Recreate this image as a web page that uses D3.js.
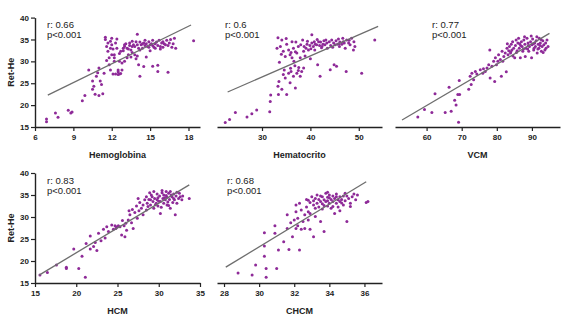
<!DOCTYPE html>
<html>
<head>
<meta charset="utf-8">
<script src="https://cdn.jsdelivr.net/npm/d3@7"></script>
<style>
  body { margin: 0; background: #fff; }
  text { font-family: "Liberation Sans", Arial, sans-serif; }
</style>
</head>
<body>
<div id="chart"></div>
<script>
// ---- data: [x, Ret-He] ----
const hemoglobina = [
  [6.9,16.2],[6.9,16.8],[7.6,18.2],[7.8,17.2],[8.6,18.8],[8.8,18.2],[8.9,18.4],[9.7,21.0],[9.9,22.2],
  [10.2,28.0],[10.5,25.5],[10.5,23.6],[10.6,24.3],[10.7,22.5],[10.8,26.6],[10.9,27.4],[11.0,28.5],
  [11.0,22.2],[11.1,25.5],[11.2,24.7],[11.3,22.6],[11.4,27.3],[11.5,35.5],[11.5,35.0],[11.6,33.4],
  [11.7,34.2],[11.7,32.3],[11.8,30.8],[11.8,29.2],[11.9,33.0],[12.0,31.5],[12.0,35.3],[12.1,27.1],
  [12.0,33.8],[12.2,30.0],[12.2,30.8],[12.3,27.1],[12.3,34.2],[12.4,33.0],[12.5,27.0],[12.5,28.0],
  [12.5,27.6],[12.6,30.0],[12.6,27.1],[12.7,27.2],[12.7,32.3],[12.8,29.6],[12.9,33.0],[13.0,33.4],
  [13.0,33.8],[13.2,30.8],[13.2,33.0],[13.3,31.5],[13.4,33.6],[13.4,34.2],[13.5,32.6],[13.6,33.4],
  [13.7,33.8],[13.8,31.5],[13.8,33.4],[13.9,34.5],[14.0,36.2],[14.0,33.8],[14.1,33.0],[14.1,29.2],
  [14.2,34.4],[14.3,33.8],[14.4,34.0],[14.4,33.0],[14.5,34.2],[14.5,28.8],[14.6,33.6],[14.7,34.0],
  [14.8,33.4],[14.9,34.5],[14.9,33.2],[15.0,33.8],[15.2,28.9],[15.1,34.0],[15.2,33.6],[15.2,34.8],
  [15.3,33.2],[15.4,34.0],[15.6,29.1],[15.6,27.7],[15.5,34.4],[15.6,33.6],[15.7,34.8],[15.8,33.4],
  [15.9,34.2],[16.0,34.5],[16.0,33.2],[16.1,34.0],[16.4,27.5],[16.3,34.8],[16.4,33.6],[16.6,35.0],
  [16.7,33.2],[16.9,35.3],[17.0,33.0],[18.4,34.7],[12.8,28.0],[13.0,30.0],[13.5,31.0],[14.2,26.6],
  [13.9,30.6],[12.2,31.5],[11.9,28.0],[11.6,30.2],[13.6,32.0],[14.7,31.0],[15.8,32.8],[14.0,31.2],
  [12.9,32.4],[13.1,34.0],[13.3,32.8],[13.6,34.6],[14.2,32.6],[14.6,34.8],[15.0,32.4],[15.4,33.0],
  [16.2,33.8],[16.5,34.2],[16.8,34.0],[12.4,35.1],[12.1,32.8],[11.9,34.6],[12.6,31.8]
];
const hematocrito = [
  [22.4,16.0],[23.3,16.7],[24.5,18.3],[26.9,17.3],[27.9,18.0],[28.9,18.9],[31.6,18.5],[31.7,20.8],
  [31.8,22.3],[33.4,22.4],[33.3,24.3],[33.5,25.4],[34.1,23.6],[34.4,27.0],[34.8,26.2],[35.1,22.4],
  [35.5,27.3],[35.8,25.1],[36.0,27.7],[36.5,26.6],[36.9,23.9],[37.2,27.3],[37.5,27.9],[37.9,26.6],
  [38.2,27.7],[38.6,28.5],[33.3,35.4],[34.1,34.9],[33.1,33.0],[33.8,33.4],[34.4,32.3],[34.8,31.1],
  [35.1,33.9],[35.5,32.6],[35.8,31.5],[36.2,34.5],[36.2,30.8],[36.5,33.0],[36.6,30.0],[37.2,31.9],
  [37.5,33.4],[37.9,30.8],[38.4,34.9],[38.6,32.3],[38.7,33.4],[39.1,33.0],[39.3,33.9],[39.6,32.6],
  [39.9,33.6],[40.3,36.1],[40.3,34.2],[40.6,33.4],[40.8,34.5],[41.0,33.9],[41.3,33.8],[41.5,29.2],
  [41.7,34.5],[41.9,33.6],[42.0,26.6],[42.1,34.4],[42.4,33.4],[42.6,33.9],[42.8,34.7],[43.0,33.8],
  [43.4,34.2],[43.5,33.0],[43.9,34.5],[44.1,28.1],[44.2,33.6],[44.4,34.9],[44.8,34.2],[44.9,29.2],
  [45.1,33.8],[45.3,34.7],[45.4,28.9],[45.6,33.9],[45.8,35.1],[46.0,33.4],[46.1,34.4],[46.5,33.9],
  [46.7,35.3],[46.8,34.5],[47.2,33.0],[47.4,27.7],[47.5,34.9],[47.9,34.2],[48.2,33.8],[48.5,35.3],
  [48.9,32.6],[49.0,34.5],[49.2,33.4],[50.6,27.3],[53.3,34.9],[34.6,28.0],[35.9,28.4],[36.8,29.0],
  [37.6,28.6],[34.0,31.6],[35.0,35.2],[36.9,32.2],[38.0,33.8],[39.4,34.6],[40.1,32.9],[40.9,32.6],
  [41.4,35.0],[42.3,33.1],[43.2,34.9],[44.6,33.2],[45.9,34.0],[47.0,34.2],[48.0,34.8],[37.0,34.4],
  [36.0,32.0],[33.6,29.8],[38.9,31.2],[40.0,30.6]
];
const vcm = [
  [57.5,17.3],[59.4,19.0],[61.5,18.3],[62.4,22.6],[65.3,18.3],[66.4,24.1],[67.0,18.6],[68.0,21.1],
  [68.4,20.0],[68.9,22.4],[69.1,16.1],[69.3,25.6],[69.4,22.4],[72.0,23.6],[72.4,26.6],[72.7,24.7],
  [72.9,27.3],[73.4,25.8],[73.9,27.7],[74.3,27.1],[75.3,28.1],[76.0,27.3],[76.2,28.3],[76.7,27.7],
  [77.2,28.5],[77.7,29.2],[78.0,32.6],[78.1,26.2],[78.6,28.9],[79.1,30.0],[79.4,25.4],[79.6,30.8],
  [79.9,29.2],[80.3,30.0],[80.5,31.5],[81.0,30.4],[81.3,26.6],[81.5,32.3],[81.7,30.0],[82.0,31.1],
  [82.4,31.9],[82.7,27.6],[82.9,33.0],[83.2,31.5],[83.4,32.4],[83.6,33.4],[83.9,31.9],[84.1,33.9],
  [84.3,32.6],[84.5,34.5],[84.8,33.0],[85.1,30.8],[85.3,33.6],[85.5,34.9],[85.8,32.4],[86.0,34.2],
  [86.2,35.3],[86.4,33.0],[86.7,30.8],[87.0,34.5],[87.2,33.4],[87.4,32.3],[87.7,34.9],[88.0,33.9],
  [88.1,31.1],[88.3,33.0],[88.6,35.3],[88.9,34.2],[89.1,32.3],[89.3,33.4],[89.6,34.5],[89.9,30.8],
  [90.0,33.8],[90.2,35.1],[90.5,32.6],[90.8,34.2],[91.0,33.4],[91.2,34.7],[91.5,31.9],[91.8,33.9],
  [92.0,33.0],[92.1,35.3],[92.4,34.2],[92.7,32.3],[92.9,33.4],[93.1,34.7],[93.4,33.8],[93.7,32.6],
  [93.9,34.2],[94.3,34.9],[94.6,33.4],[84.6,31.2],[85.6,32.0],[86.8,33.6],[87.9,35.6],[88.8,32.8],
  [89.8,35.8],[90.6,33.0],[91.4,35.6],[92.6,35.0],[93.2,32.0],[86.5,34.0],[87.6,32.8],[89.0,33.6],
  [90.4,34.0],[91.7,32.8],[83.0,34.0],[84.0,32.2],[94.0,33.0],[92.3,33.6]
];
const hcm = [
  [15.6,16.8],[16.5,17.4],[17.6,19.1],[18.8,18.6],[18.8,18.3],[19.7,22.7],[20.3,18.3],[20.7,21.1],
  [21.1,16.3],[21.2,24.0],[21.7,25.7],[21.7,22.7],[22.1,23.3],[22.3,24.2],[22.5,22.4],[22.7,26.3],
  [23.0,24.6],[23.3,27.2],[23.5,25.2],[23.7,27.8],[23.9,26.7],[24.3,28.2],[24.5,27.2],[24.7,28.0],
  [24.9,27.7],[25.1,28.0],[25.3,27.8],[25.5,25.9],[25.6,29.2],[25.8,28.0],[25.9,25.5],[26.1,27.0],
  [26.3,29.3],[26.4,31.4],[26.5,30.5],[26.7,28.7],[26.8,31.7],[26.9,27.4],[27.1,31.0],[27.3,32.5],
  [27.4,29.7],[27.5,34.2],[27.6,31.4],[27.7,33.3],[27.9,32.0],[28.1,30.5],[28.1,32.7],[28.3,33.9],
  [28.5,31.6],[28.5,34.6],[28.6,33.1],[28.7,32.4],[28.9,35.5],[29.0,33.9],[29.0,32.7],[29.1,35.0],
  [29.3,33.5],[29.4,32.0],[29.4,35.8],[29.5,34.2],[29.7,33.1],[29.8,35.2],[29.8,33.9],[29.9,32.5],
  [30.1,34.8],[30.2,33.5],[30.2,30.8],[30.4,35.5],[30.5,34.2],[30.6,33.1],[30.6,35.0],[30.8,33.9],
  [30.9,35.8],[31.0,34.5],[31.0,32.7],[31.2,35.4],[31.3,34.0],[31.4,32.0],[31.4,35.8],[31.6,34.6],
  [31.7,33.3],[31.8,35.2],[31.9,33.9],[32.0,30.5],[32.1,34.8],[32.2,33.1],[32.4,34.2],[32.5,35.4],
  [32.8,33.9],[32.9,34.8],[33.7,34.2],[29.2,34.6],[29.6,32.8],[30.0,33.6],[30.3,32.2],[30.7,34.4],
  [31.1,33.4],[31.5,35.0],[31.8,34.2],[32.2,35.6],[32.6,34.6],[30.4,36.0],[29.9,34.4],[28.8,34.0],
  [31.2,32.6],[30.9,34.9],[26.0,28.6],[24.8,27.4]
];
const chcm = [
  [28.8,17.3],[29.6,16.8],[29.8,19.1],[30.3,21.1],[30.4,18.3],[30.4,16.3],[31.0,18.3],[30.3,26.4],
  [30.3,23.4],[30.9,28.0],[30.9,26.3],[31.1,22.5],[31.4,24.4],[31.6,27.4],[31.6,30.5],[31.7,22.6],
  [31.8,28.7],[31.9,25.5],[32.0,29.3],[32.1,32.7],[32.1,27.4],[32.1,31.2],[32.2,28.0],[32.2,29.7],
  [32.3,22.5],[32.3,33.1],[32.4,27.2],[32.4,31.6],[32.5,29.0],[32.6,30.5],[32.6,27.4],[32.7,32.3],
  [32.7,34.0],[32.8,29.3],[32.8,31.2],[32.9,33.3],[32.9,27.2],[32.9,30.8],[33.0,34.6],[33.1,32.7],
  [33.1,25.5],[33.1,33.7],[33.2,30.1],[33.2,34.2],[33.3,33.1],[33.3,35.0],[33.4,32.3],[33.4,34.0],
  [33.5,33.5],[33.5,29.0],[33.6,34.6],[33.6,33.0],[33.7,33.9],[33.7,26.7],[33.8,35.4],[33.8,33.5],
  [33.9,32.5],[33.9,34.5],[33.9,33.7],[34.0,35.0],[34.0,33.1],[34.1,34.0],[34.1,32.0],[34.2,34.8],
  [34.2,33.5],[34.3,30.8],[34.3,34.2],[34.4,33.1],[34.4,35.2],[34.5,33.9],[34.5,32.3],[34.6,34.6],
  [34.6,33.5],[34.7,34.0],[34.8,32.7],[34.8,34.8],[34.9,33.7],[35.0,29.0],[35.1,34.2],[35.2,33.1],
  [35.3,34.6],[35.4,35.2],[35.5,33.9],[35.6,35.0],[36.1,33.3],[36.2,33.5],[33.5,34.8],[33.7,32.6],
  [34.0,34.4],[34.2,32.4],[34.4,34.6],[34.7,33.2],[33.9,35.6],[33.6,31.8],[34.6,31.4],[35.0,34.8],
  [33.2,32.0],[32.8,33.8],[34.9,35.4],[35.2,32.4]
];

const xTicks = {
  hemoglobina: [6, 9, 12, 15, 18],
  hematocrito: [30, 40, 50],
  vcm: [60, 70, 80, 90],
  hcm: [15, 20, 25, 30, 35],
  chcm: [28, 30, 32, 34, 36]
};
const yTicks = [15, 20, 25, 30, 35, 40];
const titles = ["Hemoglobina", "Hematocrito", "VCM", "HCM", "CHCM"];
const rValues = ["0.66", "0.6", "0.77", "0.83", "0.68"];
// regression line end points [x, y]
const fitLines = [
  [[7.0, 22.3], [18.2, 38.3]],
  [[22.9, 23.0], [54.0, 38.0]],
  [[53.0, 16.6], [95.0, 36.4]],
  [[15.5, 16.8], [33.7, 37.3]],
  [[28.1, 18.6], [36.1, 38.0]]
];

const width = 567, height = 321;

const svg = d3.select("#chart")
  .append("svg")
    .attr("width", width)
    .attr("height", height)

const rows = [{top: 17.6, bottom: 127}, {top: 173, bottom: 283}]

const panels = [
  {data: hemoglobina, ticks: xTicks.hemoglobina, domain: [6, 18.9], left: 35, right: 200, row: 0, yAxis: true, ann: 47},
  {data: hematocrito, ticks: xTicks.hematocrito, domain: [20.7, 54.8], left: 217, right: 382, row: 0, yAxis: false, ann: 225},
  {data: vcm, ticks: xTicks.vcm, domain: [51, 98], left: 395, right: 560, row: 0, yAxis: false, ann: 432},
  {data: hcm, ticks: xTicks.hcm, domain: [15, 35], left: 35, right: 200, row: 1, yAxis: true, ann: 47},
  {data: chcm, ticks: xTicks.chcm, domain: [27.6, 37], left: 217, right: 382, row: 1, yAxis: false, ann: 227}
]

panels.forEach((p, i) => {
  const row = rows[p.row]
  const x = d3.scaleLinear().domain(p.domain).range([p.left, p.right])
  const y = d3.scaleLinear().domain([15, 40]).range([row.bottom, row.top])
  const g = svg.append("g")

  // x axis
  const xa = g.append("g")
    .attr("transform", "translate(0," + row.bottom + ")")
    .call(d3.axisBottom(x).tickValues(p.ticks).tickSize(4).tickPadding(3).tickSizeOuter(0))
  xa.select(".domain").attr("stroke", "#222").attr("stroke-width", 1.4)
  xa.selectAll(".tick line").attr("stroke", "#222").attr("stroke-width", 1.2)
  xa.selectAll(".tick text")
    .attr("fill", "#222")
    .style("font-size", "8px")
    .style("font-weight", "bold")

  // y axis only on the first column
  if (p.yAxis) {
    const ya = g.append("g")
      .attr("transform", "translate(" + p.left + ",0)")
      .call(d3.axisLeft(y).tickValues(yTicks).tickSize(4).tickPadding(2).tickSizeOuter(0))
    ya.select(".domain").attr("stroke", "#222").attr("stroke-width", 1.4)
    ya.selectAll(".tick line").attr("stroke", "#222").attr("stroke-width", 1.2)
    ya.selectAll(".tick text")
      .attr("fill", "#222")
      .style("font-size", "8px")
      .style("font-weight", "bold")

    g.append("text")
      .attr("transform", "translate(14," + (row.top + row.bottom) / 2 + ") rotate(-90)")
      .attr("text-anchor", "middle")
      .style("font-size", "9px")
      .style("font-weight", "bold")
      .attr("fill", "#222")
      .text("Ret-He")
  }

  // axis title
  g.append("text")
    .attr("x", (p.left + p.right) / 2)
    .attr("y", row.bottom + 31)
    .attr("text-anchor", "middle")
    .style("font-size", "9px")
    .style("font-weight", "bold")
    .attr("fill", "#222")
    .text(titles[i])

  // points
  g.selectAll("circle")
    .data(p.data)
    .enter()
    .append("circle")
      .attr("cx", d => x(d[0]))
      .attr("cy", d => y(d[1]))
      .attr("r", 1.5)
      .style("fill", "#8e2a98")

  // regression line
  const f = fitLines[i]
  g.append("line")
    .attr("x1", x(f[0][0]))
    .attr("y1", y(f[0][1]))
    .attr("x2", x(f[1][0]))
    .attr("y2", y(f[1][1]))
    .attr("stroke", "#6e6e6e")
    .attr("stroke-width", 1.3)

  // annotation
  g.append("text")
    .attr("x", p.ann)
    .attr("y", row.top + 10.5)
    .style("font-size", "9.5px")
    .attr("fill", "#222")
    .text("r: " + rValues[i])
  g.append("text")
    .attr("x", p.ann)
    .attr("y", row.top + 20.5)
    .style("font-size", "9.5px")
    .attr("fill", "#222")
    .text("p<0.001")
})
</script>
</body>
</html>
